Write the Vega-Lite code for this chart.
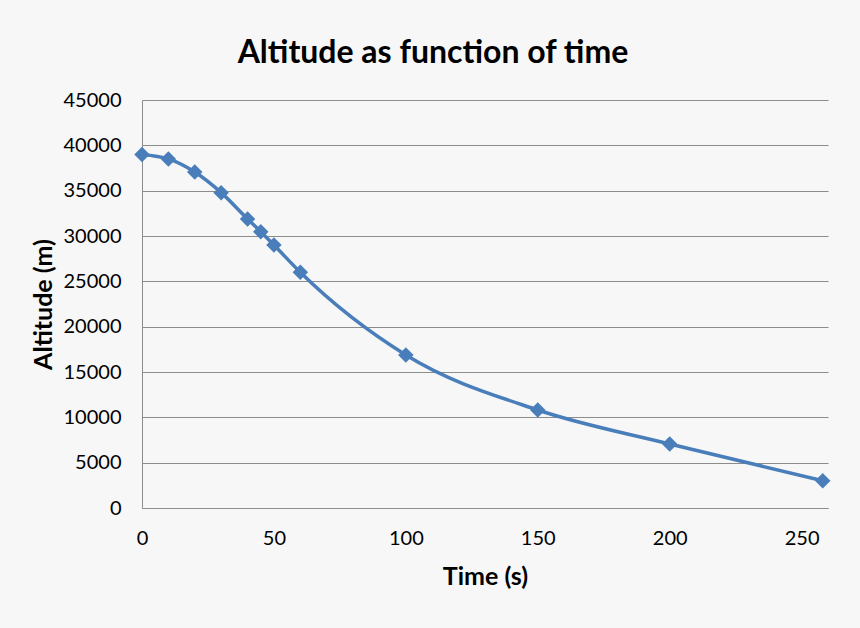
{
  "$schema": "https://vega.github.io/schema/vega-lite/v6.json",
  "autosize": "none",
  "width": 686,
  "height": 408,
  "padding": {"left": 142, "top": 100, "right": 32, "bottom": 120},
  "background": "#f7f7f7",
  "title": {
    "text": "Altitude as function of time",
    "font": "Lato",
    "fontSize": 32,
    "fontWeight": "bold",
    "color": "#000000",
    "anchor": "middle",
    "dx": -52,
    "offset": 20
  },
  "config": {
    "view": {"stroke": null},
    "axis": {
      "labelFont": "Lato",
      "labelFontSize": 20,
      "labelColor": "#000000",
      "titleFont": "Lato",
      "titleFontSize": 25,
      "titleFontWeight": "bold",
      "titleColor": "#000000",
      "domainColor": "#8c8c8c",
      "gridColor": "#8c8c8c",
      "ticks": false
    }
  },
  "data": {
    "values": [
      {"time": 0, "altitude": 39000},
      {"time": 10, "altitude": 38500},
      {"time": 20, "altitude": 37050},
      {"time": 30, "altitude": 34780},
      {"time": 40, "altitude": 31880},
      {"time": 45, "altitude": 30480},
      {"time": 50, "altitude": 29010},
      {"time": 60, "altitude": 26000},
      {"time": 100, "altitude": 16880},
      {"time": 150, "altitude": 10810},
      {"time": 200, "altitude": 7060},
      {"time": 258, "altitude": 3000}
    ]
  },
  "mark": {
    "type": "line",
    "interpolate": "monotone",
    "color": "#4a7ebb",
    "strokeWidth": 3.5,
    "point": {"shape": "diamond", "size": 240, "filled": true, "color": "#4a7ebb", "opacity": 1}
  },
  "encoding": {
    "x": {
      "field": "time",
      "type": "quantitative",
      "title": "Time (s)",
      "scale": {"domain": [0, 260], "nice": false},
      "axis": {"values": [0, 50, 100, 150, 200, 250], "grid": false, "labelFlush": false, "labelPadding": 20, "titlePadding": 16}
    },
    "y": {
      "field": "altitude",
      "type": "quantitative",
      "title": "Altitude (m)",
      "scale": {"domain": [0, 45000], "nice": false},
      "axis": {"values": [0, 5000, 10000, 15000, 20000, 25000, 30000, 35000, 40000, 45000], "format": "d", "labelFlush": false, "labelPadding": 21, "titlePadding": 7}
    }
  }
}
